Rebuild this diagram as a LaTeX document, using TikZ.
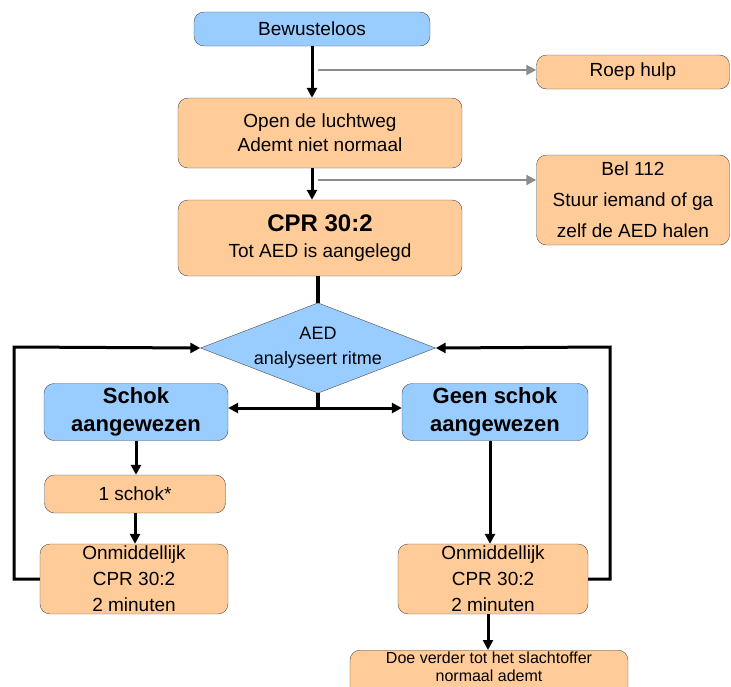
\documentclass[tikz,border=0pt]{standalone}
\usepackage{fontspec}
\setmainfont{Liberation Sans}
\usetikzlibrary{shapes.geometric,arrows.meta}

\definecolor{peach}{HTML}{FFCC99}
\definecolor{skyblue}{HTML}{99CCFF}

\tikzset{
    box/.style={draw=black!70, rounded corners=10pt, align=center, inner sep=2pt,
        font=\fontsize{19}{24}\selectfont},
    orangebox/.style={box, fill=peach},
    bluebox/.style={box, fill=skyblue},
    flow/.style={line width=3pt, ->},
    side/.style={line width=2pt, draw=black!45, ->},
}

\begin{document}
\begin{tikzpicture}[x=1pt, y=-1pt, >={Triangle[length=10pt,width=10pt]}]
    \useasboundingbox (0,0) rectangle (731,686);

    % top part
    \node[bluebox, minimum width=236pt, minimum height=34pt] (start) at (312,29) {Bewusteloos};
    \node[orangebox, minimum width=193pt, minimum height=34pt] (help) at (633,72) {Roep hulp};
    \node[orangebox, minimum width=284pt, minimum height=70pt] (airway) at (320,133)
        {Open de luchtweg\\Ademt niet normaal};
    \node[orangebox, minimum width=193pt, minimum height=90pt, font=\fontsize{19}{31}\selectfont] (call) at (633,200)
        {Bel 112\\Stuur iemand of ga\\zelf de AED halen};
    \node[orangebox, minimum width=284pt, minimum height=76pt] (cpr) at (320,238)
        {{\fontsize{24}{28}\selectfont\bfseries CPR 30:2}\\[2pt]Tot AED is aangelegd};

    % AED
    \node[draw=black!70, fill=skyblue, shape=diamond, aspect=2.6, inner sep=0pt,
        minimum width=235pt, minimum height=90pt, align=center,
        font=\fontsize{18}{25}\selectfont] (aed) at (318,348) {AED\\analyseert ritme};

    \node[bluebox, minimum width=184pt, minimum height=57pt, font=\fontsize{22}{28}\selectfont\bfseries] (shock) at (136,412)
        {Schok\\aangewezen};
    \node[bluebox, minimum width=186pt, minimum height=57pt, font=\fontsize{22}{28}\selectfont\bfseries] (noshock) at (495,412)
        {Geen schok\\aangewezen};

    \node[orangebox, minimum width=181pt, minimum height=38pt] (one) at (135,494) {1 schok*};
    \node[orangebox, minimum width=188pt, minimum height=68pt, font=\fontsize{19}{26}\selectfont] (cprl) at (134,579)
        {Onmiddellijk\\CPR 30:2\\2 minuten};
    \node[orangebox, minimum width=190pt, minimum height=68pt, font=\fontsize{19}{26}\selectfont] (cprr) at (493,579)
        {Onmiddellijk\\CPR 30:2\\2 minuten};
    \node[orangebox, minimum width=278pt, minimum height=44pt, font=\fontsize{16}{18}\selectfont,
        anchor=north] (cont) at (489,650)
        {Doe verder tot het slachtoffer\\normaal ademt\\[6pt]};

    % connectors
    \draw[flow] (start.south) -- (airway.north -| start.south);
    \draw[flow] (airway.south -| start.south) -- (cpr.north -| start.south);
    \draw[side] (318,70) -- (help.west |- 0,70);
    \draw[side] (318,180) -- (call.west |- 0,180);
    \draw[line width=4pt] (cpr.south -| aed.north) -- (aed.north);
    \draw[line width=4pt] (aed.south) -- (318,408);
    \draw[flow] (318,408) -- (shock.east |- 0,408);
    \draw[flow] (318,408) -- (noshock.west |- 0,408);
    \draw[flow] (shock.south) -- (one.north -| shock.south);
    \draw[flow] (one.south) -- (cprl.north -| one.south);
    \draw[flow] (noshock.south -| 490,0) -- (cprr.north -| 490,0);
    \draw[flow] (cprl.west) -- (14,579) -- (14,347) -- (aed.west);
    \draw[flow] (cprr.east) -- (610,579) -- (610,347) -- (aed.east);
    \draw[flow] (cprr.south -| 488,0) -- (cont.north -| 488,0);
\end{tikzpicture}
\end{document}
